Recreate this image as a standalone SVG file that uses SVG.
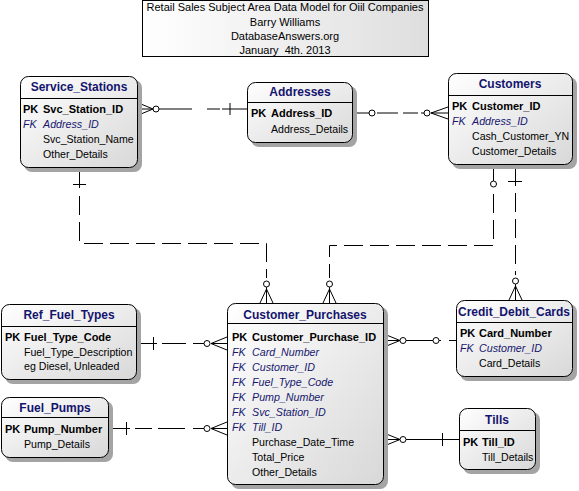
<svg xmlns="http://www.w3.org/2000/svg" width="579" height="491" viewBox="0 0 579 491">
<defs>
<linearGradient id="g" x1="0" y1="0" x2="1" y2="1">
<stop offset="0" stop-color="#ffffff"/>
<stop offset="1" stop-color="#d8d8d8"/>
</linearGradient>
<linearGradient id="gt" x1="0" y1="0" x2="1" y2="0">
<stop offset="0" stop-color="#ffffff"/>
<stop offset="1" stop-color="#dedede"/>
</linearGradient>
<style>
.box{fill:url(#g);stroke:#000;stroke-width:1}
.sh{fill:#a4a4a4}
.dv{stroke:#000;stroke-width:1}
.t{font-family:"Liberation Sans",Arial,sans-serif;font-size:12px;font-weight:bold;fill:#14146e;text-anchor:middle}
.k{font-family:"Liberation Sans",Arial,sans-serif;font-size:11px;font-weight:bold;fill:#000}
.f{font-family:"Liberation Sans",Arial,sans-serif;font-size:10.7px;font-style:italic;fill:#16166e}
.a{font-family:"Liberation Sans",Arial,sans-serif;font-size:10.6px;fill:#000}
.h{font-family:"Liberation Sans",Arial,sans-serif;font-size:11px;fill:#000;text-anchor:middle;white-space:pre}
.c{fill:none;stroke:#000;stroke-width:1}
.d{fill:none;stroke:#000;stroke-width:1;stroke-dasharray:19,7}
.o{fill:#fff;stroke:#000;stroke-width:1}
</style>
</defs>
<rect width="579" height="491" fill="#fff"/>

<g id="title">
<rect x="142.5" y="0.5" width="286" height="56" fill="url(#gt)" stroke="#000"/>
<text class="h" x="285" y="11">Retail Sales Subject Area Data Model for Oiil Companies</text>
<text class="h" x="285" y="26">Barry Williams</text>
<text class="h" x="285" y="40">DatabaseAnswers.org</text>
<text class="h" x="285" y="54" xml:space="preserve">January  4th. 2013</text>
</g>

<g id="connectors">
<!-- Service_Stations - Addresses -->
<path class="c" d="M153,109 L138.5,103 M153,109 L138.5,109 M153,109 L138.5,115"/>
<circle class="o" cx="156" cy="109" r="3"/>
<path class="c" d="M159,109 H192 M207,109 H220 M222,109 H247 M230,103 V115"/>
<!-- Addresses - Customers -->
<path class="c" d="M353,113 H369"/>
<circle class="o" cx="372" cy="113" r="3"/>
<path class="c" d="M377,113 H398 M403,113 H418 M421,113 H424"/>
<circle class="o" cx="427" cy="113" r="3"/>
<path class="c" d="M431,113 L448,107 M431,113 H448 M431,113 L448,119"/>
<!-- Service_Stations - Customer_Purchases -->
<path class="c" d="M79.5,168 V188 M73,184.5 H86"/>
<path class="d" d="M79.5,196 V243.5 H266.5 V278"/>
<circle class="o" cx="266.5" cy="284" r="3"/>
<path class="c" d="M266.5,287 V303 M266.5,289 L260,303 M266.5,289 L273,303"/>
<!-- Customers - Customer_Purchases -->
<path class="c" d="M493.5,165 V181"/>
<circle class="o" cx="493.5" cy="184" r="3"/>
<path class="d" d="M493.5,194 V245.5 H329.5 V278"/>
<circle class="o" cx="329.5" cy="284" r="3"/>
<path class="c" d="M329.5,287 V303 M329.5,289 L323,303 M329.5,289 L336,303"/>
<!-- Customers - Credit_Debit_Cards -->
<path class="c" d="M515.5,165 V186 M508,181.5 H522"/>
<path class="d" d="M515.5,193 V275"/>
<circle class="o" cx="515.5" cy="281" r="3"/>
<path class="c" d="M515.5,284 V300 M515.5,286 L509,300 M515.5,286 L522,300"/>
<!-- Ref_Fuel_Types - Customer_Purchases -->
<path class="c" d="M137,343.5 H157 M153.5,337 V350 M162,343.5 H186 M193,343.5 H204"/>
<circle class="o" cx="207" cy="343.5" r="3"/>
<path class="c" d="M211,343.5 H227 M211,343.5 L227,337 M211,343.5 L227,350"/>
<!-- Fuel_Pumps - Customer_Purchases -->
<path class="c" d="M109,428.5 H130 M126.5,422 V435 M135,428.5 H152 M158,428.5 H185 M193,428.5 H204"/>
<circle class="o" cx="207" cy="428.5" r="3"/>
<path class="c" d="M211,428.5 H227 M211,428.5 L227,422 M211,428.5 L227,435"/>
<!-- Customer_Purchases - Credit_Debit_Cards -->
<path class="c" d="M400,340.5 L384,334 M400,340.5 H384 M400,340.5 L384,347"/>
<circle class="o" cx="403" cy="340.5" r="3"/>
<path class="c" d="M406,340.5 H433"/>
<circle class="o" cx="436" cy="340.5" r="3"/>
<path class="c" d="M439,340.5 H441 M449,340.5 H456"/>
<!-- Customer_Purchases - Tills -->
<path class="c" d="M400,439.5 L384,433 M400,439.5 H384 M400,439.5 L384,446"/>
<circle class="o" cx="403" cy="439.5" r="3"/>
<path class="c" d="M406,439.5 H459 M442.5,433 V446"/>
</g>

<g id="Service_Stations">
<rect class="sh" x="24" y="80" width="118" height="92" rx="8"/>
<rect class="box" x="20.5" y="76.5" width="117" height="91" rx="8"/>
<line class="dv" x1="20.5" y1="98.5" x2="137.5" y2="98.5"/>
<text class="t" x="79" y="91">Service_Stations</text>
<text class="k" x="23" y="113">PK</text><text class="k" x="43" y="113">Svc_Station_ID</text>
<text class="f" x="23" y="128">FK</text><text class="f" x="43" y="128">Address_ID</text>
<text class="a" x="43" y="143">Svc_Station_Name</text>
<text class="a" x="43" y="158">Other_Details</text>
</g>

<g id="Addresses">
<rect class="sh" x="251" y="86" width="106" height="61" rx="8"/>
<rect class="box" x="247.5" y="82.5" width="105" height="60" rx="8"/>
<line class="dv" x1="247.5" y1="102.5" x2="352.5" y2="102.5"/>
<text class="t" x="300" y="96">Addresses</text>
<text class="k" x="251" y="117">PK</text><text class="k" x="271" y="117">Address_ID</text>
<text class="a" x="271" y="133">Address_Details</text>
</g>

<g id="Customers">
<rect class="sh" x="452" y="77" width="125" height="92" rx="8"/>
<rect class="box" x="448.5" y="73.5" width="124" height="91" rx="8"/>
<line class="dv" x1="448.5" y1="95.5" x2="572.5" y2="95.5"/>
<text class="t" x="510" y="88">Customers</text>
<text class="k" x="452" y="110">PK</text><text class="k" x="472" y="110">Customer_ID</text>
<text class="f" x="452" y="125">FK</text><text class="f" x="472" y="125">Address_ID</text>
<text class="a" x="472" y="140">Cash_Customer_YN</text>
<text class="a" x="472" y="155">Customer_Details</text>
</g>

<g id="Ref_Fuel_Types">
<rect class="sh" x="5" y="308" width="136" height="76" rx="8"/>
<rect class="box" x="1.5" y="304.5" width="135" height="75" rx="8"/>
<line class="dv" x1="1.5" y1="326.5" x2="136.5" y2="326.5"/>
<text class="t" x="69" y="319">Ref_Fuel_Types</text>
<text class="k" x="5" y="341">PK</text><text class="k" x="24" y="341">Fuel_Type_Code</text>
<text class="a" x="24" y="356">Fuel_Type_Description</text>
<text class="a" x="24" y="370">eg Diesel, Unleaded</text>
</g>

<g id="Fuel_Pumps">
<rect class="sh" x="5" y="401" width="108" height="61" rx="8"/>
<rect class="box" x="1.5" y="397.5" width="107" height="60" rx="8"/>
<line class="dv" x1="1.5" y1="417.5" x2="108.5" y2="417.5"/>
<text class="t" x="55" y="412">Fuel_Pumps</text>
<text class="k" x="5" y="433">PK</text><text class="k" x="24" y="433">Pump_Number</text>
<text class="a" x="24" y="448">Pump_Details</text>
</g>

<g id="Customer_Purchases">
<rect class="sh" x="231" y="307" width="157" height="182" rx="8"/>
<rect class="box" x="227.5" y="303.5" width="156" height="181" rx="8"/>
<line class="dv" x1="227.5" y1="323.5" x2="383.5" y2="323.5"/>
<text class="t" x="305" y="319">Customer_Purchases</text>
<text class="k" x="232" y="341">PK</text><text class="k" x="252" y="341">Customer_Purchase_ID</text>
<text class="f" x="232" y="356">FK</text><text class="f" x="252" y="356">Card_Number</text>
<text class="f" x="232" y="371">FK</text><text class="f" x="252" y="371">Customer_ID</text>
<text class="f" x="232" y="386">FK</text><text class="f" x="252" y="386">Fuel_Type_Code</text>
<text class="f" x="232" y="401">FK</text><text class="f" x="252" y="401">Pump_Number</text>
<text class="f" x="232" y="416">FK</text><text class="f" x="252" y="416">Svc_Station_ID</text>
<text class="f" x="232" y="431">FK</text><text class="f" x="252" y="431">Till_ID</text>
<text class="a" x="252" y="446">Purchase_Date_Time</text>
<text class="a" x="252" y="461">Total_Price</text>
<text class="a" x="252" y="476">Other_Details</text>
</g>

<g id="Credit_Debit_Cards">
<rect class="sh" x="460" y="304" width="117" height="77" rx="8"/>
<rect class="box" x="456.5" y="300.5" width="116" height="76" rx="8"/>
<line class="dv" x1="456.5" y1="322.5" x2="572.5" y2="322.5"/>
<text class="t" x="514" y="316">Credit_Debit_Cards</text>
<text class="k" x="460" y="337">PK</text><text class="k" x="479" y="337">Card_Number</text>
<text class="f" x="460" y="352">FK</text><text class="f" x="479" y="352">Customer_ID</text>
<text class="a" x="479" y="367">Card_Details</text>
</g>

<g id="Tills">
<rect class="sh" x="463" y="412" width="77" height="62" rx="8"/>
<rect class="box" x="459.5" y="408.5" width="76" height="61" rx="8"/>
<line class="dv" x1="459.5" y1="430.5" x2="535.5" y2="430.5"/>
<text class="t" x="497" y="424">Tills</text>
<text class="k" x="463" y="446">PK</text><text class="k" x="482" y="446">Till_ID</text>
<text class="a" x="482" y="461">Till_Details</text>
</g>
</svg>
